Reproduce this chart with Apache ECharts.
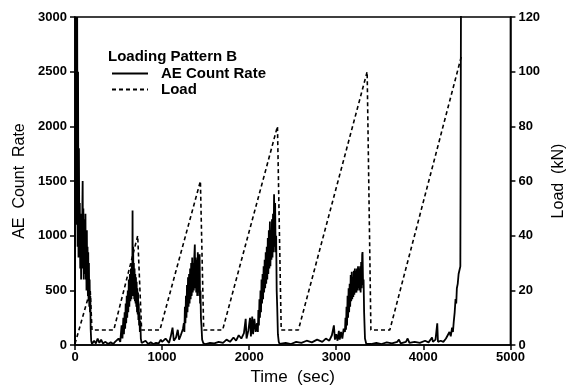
<!DOCTYPE html>
<html>
<head>
<meta charset="utf-8">
<script src="https://cdn.jsdelivr.net/npm/echarts@6/dist/echarts.min.js"></script>
<style>html,body{margin:0;padding:0;background:#fff}#c{width:575px;height:391px}</style>
</head>
<body>
<div id="c"></div>
<script>
// AE count rate: [time (s), count rate]
var aeData = [
 [0,0],[5,3000],[10,1400],[15,3000],[20,1100],[25,3000],[30,900],[35,2500],[40,800],[45,1800],[50,900],[55,1300],[60,700],[65,1200],[70,600],[75,1100],[80,800],[85,1300],[88,1500],[92,700],[96,1250],[100,600],[104,1100],[108,650],[112,1150],[116,700],[120,1200],[124,600],[128,1000],[132,500],[136,1050],[140,600],[144,900],[148,450],[152,850],[156,400],[160,750],[164,350],[168,600],[172,300],[176,450],[180,150],[186,40],[195,10],
 [220,40],[240,15],[260,60],[280,20],[300,50],[320,15],[350,30],[380,10],[410,25],[440,10],[460,30],
 [480,20],[500,60],[520,30],[535,180],[545,60],[555,250],[562,100],[570,300],[576,150],[582,380],[588,200],[594,450],[600,250],[606,500],[612,300],[618,600],[624,350],[630,650],[636,400],[642,700],[648,420],[654,750],[658,500],[661,1230],[664,450],[668,900],[672,480],[676,750],[680,420],[684,700],[688,400],[692,650],[696,380],[700,620],[704,350],[708,580],[712,300],[716,520],[720,280],[724,480],[728,230],[732,380],[736,180],[740,300],[745,120],[750,220],[756,60],[765,20],
 [780,15],[810,40],[840,10],[870,25],[900,10],[930,20],[960,15],[985,50],
 [1000,30],[1040,60],[1080,20],[1100,80],[1120,160],[1135,40],[1160,70],[1180,140],[1195,50],[1215,90],[1240,150],[1250,200],[1256,120],[1262,350],[1268,200],[1274,450],[1280,250],[1286,550],[1292,300],[1298,620],[1304,350],[1310,650],[1316,380],[1322,700],[1328,420],[1334,750],[1340,450],[1346,800],[1352,480],[1358,750],[1364,500],[1370,800],[1376,920],[1380,520],[1386,800],[1392,480],[1398,780],[1404,450],[1410,850],[1416,480],[1422,750],[1427,450],[1431,830],[1436,380],[1441,500],[1446,250],[1452,180],[1460,50],[1475,15],
 [1500,10],[1550,20],[1600,15],[1650,30],[1700,20],[1740,50],[1780,30],[1820,70],[1850,40],[1880,90],[1910,60],[1940,110],[1960,240],[1970,60],[1990,130],[2010,250],[2020,80],[2035,260],[2045,100],[2060,240],[2075,120],[2090,200],[2100,120],[2106,320],[2112,180],[2118,420],[2124,250],[2130,500],[2136,300],[2142,600],[2148,380],[2154,650],[2160,420],[2166,720],[2172,480],[2178,780],[2184,520],[2190,850],[2196,560],[2202,900],[2208,600],[2214,980],[2220,650],[2226,1050],[2232,700],[2238,1130],[2244,720],[2250,1050],[2256,780],[2262,1150],[2268,800],[2274,1200],[2280,850],[2286,1380],[2292,900],[2298,1300],[2304,850],[2310,1000],[2316,500],[2322,350],[2330,100],[2340,30],[2350,10],
 [2370,15],[2420,20],[2480,10],[2540,30],[2600,20],[2660,40],[2720,25],[2780,50],[2840,30],[2880,60],[2920,40],[2950,90],[2973,180],[2985,50],[3000,100],[3015,40],[3030,130],[3040,50],[3055,120],[3070,60],[3085,150],[3100,120],[3106,250],[3112,140],[3118,350],[3124,180],[3130,450],[3136,250],[3142,520],[3148,300],[3154,560],[3160,350],[3166,640],[3172,400],[3178,670],[3184,420],[3190,620],[3196,440],[3202,680],[3208,460],[3214,700],[3220,480],[3226,680],[3232,480],[3238,700],[3244,500],[3250,720],[3256,520],[3262,700],[3268,500],[3274,720],[3280,480],[3286,760],[3292,520],[3298,830],[3302,850],[3308,550],[3314,600],[3320,300],[3330,60],[3345,10],
 [3400,10],[3460,20],[3520,10],[3580,25],[3640,15],[3700,30],[3720,50],[3740,15],[3800,30],[3820,60],[3840,20],[3900,30],[3960,20],[4020,40],[4060,25],[4100,70],[4110,30],[4140,50],[4160,200],[4168,30],[4200,40],[4230,30],[4260,60],[4280,50],[4300,120],[4315,80],[4330,160],[4340,120],[4350,220],[4360,300],[4370,420],[4378,380],[4385,520],[4395,560],[4405,650],[4415,640],[4425,720],[4432,3000],[4440,3200]
];
// Load (kN)
var loadTime = [0,175,195,445,720,765,975,1440,1478,1695,2325,2368,2565,3355,3398,3615,4440];
var loadKN   = [0.5,20,5.5,5.5,40,5.5,5.5,60,5.5,5.5,80,5.5,5.5,100,5.5,5.5,106];
var xTicks = [0,1000,2000,3000,4000,5000];
var leftTicks = [0,500,1000,1500,2000,2500,3000];
var rightTicks = [0,20,40,60,80,100,120];

var FONT = 'Liberation Sans';
var chart = echarts.init(document.getElementById('c'), null, {renderer:'canvas'});
var loadData = loadTime.map(function(t,i){return [t, loadKN[i]];});
function plain(v){return String(v);}
var axisCommon = {
  axisLine:{show:true,lineStyle:{color:'#000',width:1.5}},
  axisTick:{show:true,length:5,inside:false,lineStyle:{color:'#000',width:1.5}},
  splitLine:{show:false},
  axisLabel:{color:'#000',fontFamily:FONT,fontSize:13,fontWeight:'bold',formatter:plain},
  nameTextStyle:{color:'#000',fontFamily:FONT,fontSize:16}
};
chart.setOption({
  animation:false,
  backgroundColor:'#fff',
  title:{text:'Loading Pattern B',left:103,top:44,textStyle:{fontFamily:FONT,fontSize:15,fontWeight:'bold',color:'#000'}},
  legend:{orient:'vertical',left:106,top:61,itemWidth:36,itemHeight:10,itemGap:1,
    itemStyle:{opacity:0},
    textStyle:{fontFamily:FONT,fontSize:15,fontWeight:'bold',color:'#000',padding:[0,0,0,8]},
    data:['AE Count Rate','Load']},
  grid:{left:75,right:46,top:17,bottom:41,show:true,borderColor:'#000',borderWidth:1.5,containLabel:false},
  xAxis:Object.assign({},axisCommon,{type:'value',min:0,max:5000,interval:1000,
    name:'Time  (sec)',nameLocation:'middle',nameGap:22,
    nameTextStyle:{color:'#000',fontFamily:FONT,fontSize:17},
    axisLabel:Object.assign({},axisCommon.axisLabel,{margin:6})}),
  yAxis:[
    Object.assign({},axisCommon,{type:'value',min:0,max:3000,interval:500,position:'left',
      name:'AE  Count  Rate',nameLocation:'middle',nameGap:45,nameRotate:90,
      axisLabel:Object.assign({},axisCommon.axisLabel,{margin:8})}),
    Object.assign({},axisCommon,{type:'value',min:0,max:120,interval:20,position:'right',
      name:'Load  (kN)',nameLocation:'middle',nameGap:28,nameRotate:90,
      axisLabel:Object.assign({},axisCommon.axisLabel,{margin:8})})
  ],
  series:[
    {name:'AE Count Rate',type:'line',yAxisIndex:0,data:aeData,symbol:'none',clip:true,
      lineStyle:{color:'#000',width:1.8},itemStyle:{color:'#000'}},
    {name:'Load',type:'line',yAxisIndex:1,data:loadData,symbol:'none',clip:true,
      lineStyle:{color:'#000',width:1.6,type:[4,3]},itemStyle:{color:'#000'}}
  ]
});
</script>
</body>
</html>
